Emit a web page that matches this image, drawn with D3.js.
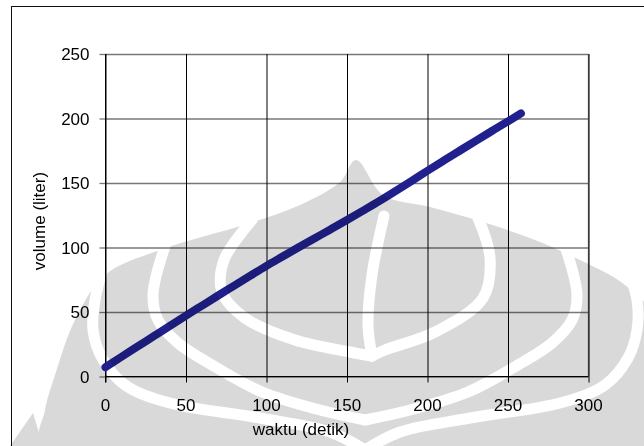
<!DOCTYPE html>
<html>
<head>
<meta charset="utf-8">
<script src="https://cdn.jsdelivr.net/npm/d3@7"></script>
<style>
  html, body { margin: 0; padding: 0; background: #fff; }
  svg { display: block; }
  text { font-family: "Liberation Sans", Arial, sans-serif; fill: #000; }
</style>
</head>
<body>
<script>
// measurements: elapsed time (s) and collected volume (litres)
const waktu  = [0, 10, 20, 30, 40, 50, 60, 70, 80, 90, 100, 110, 120, 130, 140,
                150, 160, 170, 180, 190, 200, 210, 220, 230, 240, 250, 258];
const volume = [7.2, 15.3, 23.3, 31.3, 39.3, 47.2, 55, 62.8, 70.5, 78.2, 85.8, 93, 100.2, 107.2, 114.2,
                121.3, 128.6, 136, 143.7, 151.5, 159.5, 167.3, 175, 182.7, 190.3, 197.8, 204];
const xTicks = [0, 50, 100, 150, 200, 250, 300];
const yTicks = [0, 50, 100, 150, 200, 250];
const xTitle = "waktu (detik)";
const yTitle = "volume (liter)";

const W = 644, H = 446;
const svg = d3.select("body").append("svg").attr("width", W).attr("height", H);

const x = d3.scaleLinear().domain([0, 300]).range([105.5, 588.5]);
const y = d3.scaleLinear().domain([0, 250]).range([376.5, 54]);

// chart frame (continues past the right and bottom edges)
svg.append("rect").attr("x", 11.5).attr("y", 6.5).attr("width", 700).attr("height", 500)
  .attr("fill", "none").attr("stroke", "#111").attr("stroke-width", 1);

// horizontal gridlines (grey) with the left tick stubs
const gH = svg.append("g").attr("transform", `translate(${x(0)},0)`)
  .call(d3.axisLeft(y).tickValues(yTicks).tickSize(-(x(300) - x(0))).tickSizeOuter(0).tickFormat(""));
gH.select(".domain").remove();
gH.selectAll(".tick line").attr("stroke", "#777").attr("stroke-width", 1.3);
gH.selectAll(".tick").append("line").attr("x1", -6).attr("x2", 0).attr("stroke", "#777").attr("stroke-width", 1.3);

// right edge of plot area
svg.append("line").attr("x1", x(300)).attr("x2", x(300)).attr("y1", y(250)).attr("y2", y(0))
  .attr("stroke", "#777").attr("stroke-width", 1.3);

// vertical gridlines (black) with tick stubs below the axis
const gV = svg.append("g").attr("transform", `translate(0,${y(0)})`)
  .call(d3.axisBottom(x).tickValues(xTicks).tickSize(-(y(0) - y(250))).tickSizeOuter(0).tickFormat(""));
gV.select(".domain").remove();
gV.selectAll(".tick line").attr("stroke", "#000").attr("stroke-width", 1);
gV.selectAll(".tick").append("line").attr("y1", 0).attr("y2", 6).attr("stroke", "#000");

// axis lines
svg.append("line").attr("x1", x(0)).attr("x2", x(300)).attr("y1", y(0)).attr("y2", y(0)).attr("stroke", "#000");
svg.append("line").attr("x1", x(0)).attr("x2", x(0)).attr("y1", y(250)).attr("y2", y(0) + 6).attr("stroke", "#000");

// tick labels
svg.append("g").selectAll("text").data(yTicks).join("text")
  .attr("x", 89.5).attr("y", d => y(d)).attr("dy", "0.36em")
  .attr("text-anchor", "end").attr("font-size", 17).text(d => d);
svg.append("g").selectAll("text").data(xTicks).join("text")
  .attr("x", d => x(d)).attr("y", 411).attr("text-anchor", "middle").attr("font-size", 17).text(d => d);

// axis titles
svg.append("text").attr("x", 301).attr("y", 435).attr("text-anchor", "middle")
  .attr("font-size", 17).text(xTitle);
svg.append("text").attr("transform", "translate(45,221) rotate(-90)").attr("text-anchor", "middle")
  .attr("font-size", 17).text(yTitle);

// data series
const pts = waktu.map((t, i) => [t, volume[i]]);
svg.append("path").datum(pts)
  .attr("d", d3.line().curve(d3.curveMonotoneX).x(d => x(d[0])).y(d => y(d[1])))
  .attr("fill", "none").attr("stroke", "#20208f").attr("stroke-width", 8)
  .attr("stroke-linecap", "round").attr("stroke-linejoin", "round");

// faint emblem printed over the page (multiplied so lines and text stay dark)
const emblemOuter = [[42,446],[45,410],[55,375],[75,320],[105,275],[160,250],[247,224],[300,205],
  [340,182],[356,160],[383,195],[430,207],[483,222],[535,240],[580,260],[625,285],[655,320],[660,446]];
const emblemSliver = [[10,446],[33,413],[43,446]];
const emblemBands = [
  [[105,262],[95,300],[93,330],[102,358],[125,385],[170,403],[260,418],[330,432],[365,450]],
  [[625,262],[637,300],[637,330],[628,358],[605,385],[560,403],[470,418],[400,432],[365,450]],
  [[165,246],[153,295],[158,320],[178,343],[212,365],[262,392],[320,410],[365,420]],
  [[565,246],[577,295],[572,320],[552,343],[518,365],[468,392],[410,410],[365,420]],
  [[252,220],[224,260],[222,292],[245,318],[295,340],[350,352],[372,356]],
  [[478,218],[490,258],[483,298],[435,332],[385,350],[372,356]],
  [[384,216],[372,275],[368,325],[372,356]]
];
const defs = svg.append("defs");
const mask = defs.append("mask").attr("id", "emblem")
  .attr("maskUnits", "userSpaceOnUse").attr("x", 0).attr("y", 0).attr("width", W).attr("height", H);
mask.append("path").attr("d", d3.line().curve(d3.curveCatmullRomClosed)(emblemOuter)).attr("fill", "#fff");
mask.append("path").attr("d", d3.line()(emblemSliver) + "Z").attr("fill", "#fff");
mask.selectAll("path.band").data(emblemBands).join("path").attr("class", "band")
  .attr("d", d3.line().curve(d3.curveCatmullRom)).attr("fill", "none")
  .attr("stroke", "#000").attr("stroke-width", 11).attr("stroke-linecap", "round");
svg.append("rect").attr("width", W).attr("height", H).attr("fill", "#d9d9d9")
  .attr("mask", "url(#emblem)").style("mix-blend-mode", "multiply");
</script>
</body>
</html>
